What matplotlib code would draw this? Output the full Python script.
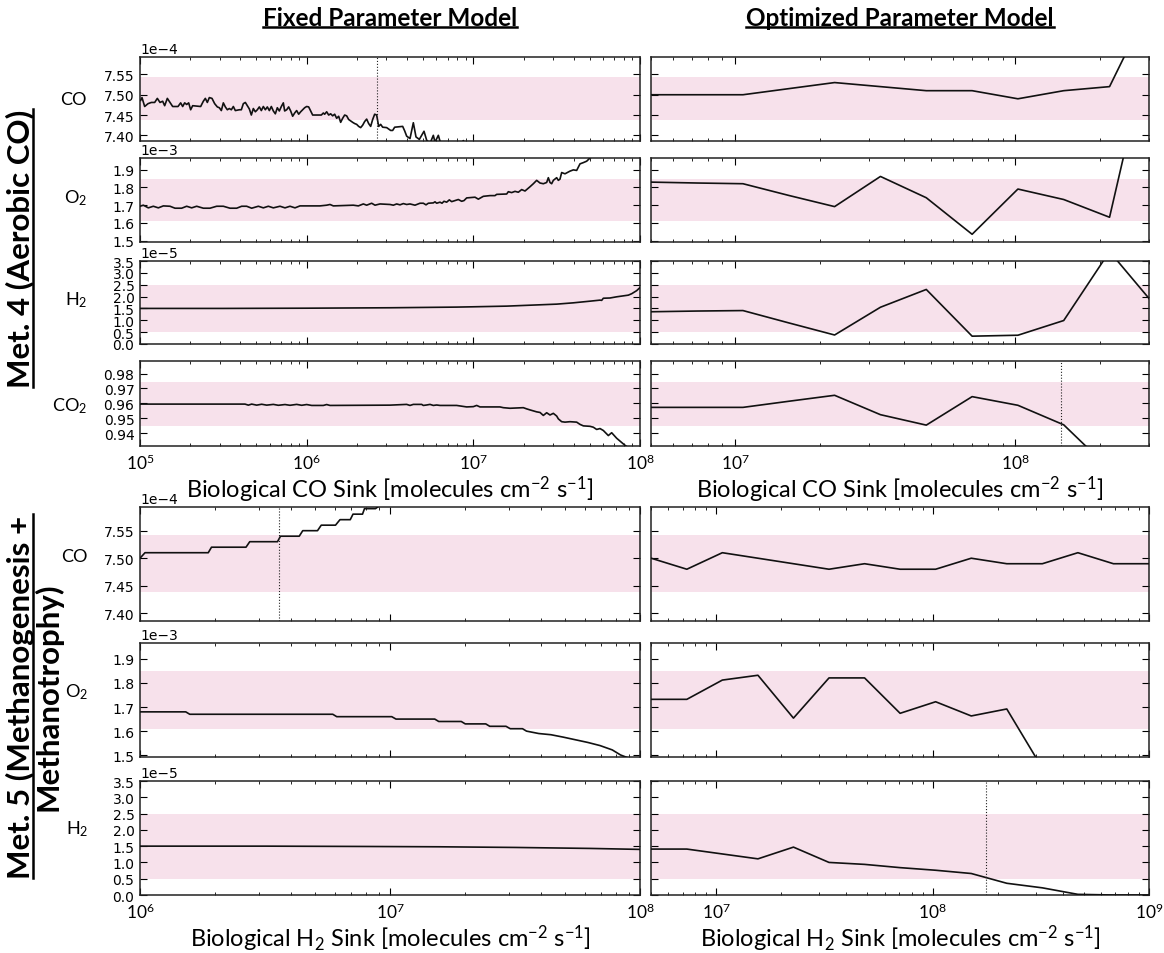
import numpy as np
import matplotlib
matplotlib.use("Agg")
import matplotlib.pyplot as plt
from matplotlib.ticker import MultipleLocator, NullFormatter
from matplotlib.lines import Line2D

# ── Data: fixed parameter model, Met. 4 (CO sink sweep, log10 of sink) ──
fix4_co_logx = [5.004, 5.012, 5.028, 5.048, 5.068, 5.088, 5.104, 5.120, 5.136, 5.148,
                5.164, 5.180, 5.196, 5.228, 5.244, 5.256, 5.268, 5.280, 5.292, 5.304,
                5.316, 5.364, 5.380, 5.392, 5.404, 5.416, 5.432, 5.448, 5.464, 5.476,
                5.488, 5.500, 5.512, 5.524, 5.536, 5.548, 5.560, 5.572, 5.596, 5.608,
                5.620, 5.632, 5.644, 5.656, 5.668, 5.680, 5.692, 5.704, 5.716, 5.728,
                5.740, 5.752, 5.764, 5.776, 5.788, 5.800, 5.812, 5.824, 5.836, 5.848,
                5.860, 5.868, 5.880, 5.892, 5.904, 5.916, 5.928, 5.940, 5.952, 5.964,
                5.976, 5.988, 6.000, 6.012, 6.024, 6.036, 6.088, 6.100, 6.108, 6.120,
                6.132, 6.144, 6.156, 6.168, 6.180, 6.192, 6.204, 6.216, 6.228, 6.240,
                6.252, 6.276, 6.288, 6.300, 6.312, 6.324, 6.336, 6.348, 6.360, 6.372,
                6.384, 6.396, 6.408, 6.420, 6.432, 6.444, 6.456, 6.480, 6.504, 6.516,
                6.528, 6.576, 6.588, 6.600, 6.620, 6.640, 6.656, 6.676, 6.690, 6.704,
                6.720, 6.740, 6.760, 6.770, 6.790, 6.804, 6.840, 6.920, 6.940, 6.960,
                7.040, 7.500, 8.000]
fix4_co = [7.486, 7.493, 7.471, 7.478, 7.481, 7.481, 7.491, 7.481, 7.484, 7.473,
           7.491, 7.481, 7.471, 7.471, 7.480, 7.471, 7.480, 7.476, 7.480, 7.463,
           7.473, 7.471, 7.484, 7.491, 7.481, 7.493, 7.491, 7.478, 7.470, 7.468,
           7.461, 7.480, 7.470, 7.463, 7.466, 7.463, 7.471, 7.461, 7.463, 7.463,
           7.478, 7.481, 7.473, 7.465, 7.450, 7.466, 7.458, 7.463, 7.470, 7.461,
           7.471, 7.463, 7.470, 7.461, 7.471, 7.460, 7.453, 7.468, 7.460, 7.471,
           7.480, 7.460, 7.463, 7.470, 7.460, 7.447, 7.455, 7.461, 7.452, 7.458,
           7.463, 7.468, 7.471, 7.470, 7.460, 7.450, 7.450, 7.455, 7.452, 7.458,
           7.450, 7.453, 7.448, 7.452, 7.442, 7.447, 7.432, 7.442, 7.450, 7.448,
           7.439, 7.432, 7.429, 7.427, 7.422, 7.419, 7.425, 7.434, 7.440, 7.429,
           7.422, 7.439, 7.452, 7.450, 7.422, 7.427, 7.420, 7.419, 7.412, 7.412,
           7.420, 7.422, 7.411, 7.398, 7.392, 7.431, 7.396, 7.390, 7.400, 7.410,
           7.388, 7.380, 7.400, 7.383, 7.400, 7.380, 7.367, 7.375, 7.387, 7.367,
           7.360, 7.300, 7.200]

fix4_o2_logx = [5.000, 5.020, 5.050, 5.080, 5.110, 5.140, 5.180, 5.210, 5.250, 5.280,
                5.310, 5.340, 5.380, 5.420, 5.460, 5.500, 5.540, 5.580, 5.610, 5.640,
                5.670, 5.710, 5.740, 5.770, 5.800, 5.840, 5.870, 5.900, 5.930, 5.960,
                6.080, 6.120, 6.140, 6.160, 6.280, 6.310, 6.340, 6.360, 6.390, 6.410,
                6.440, 6.500, 6.520, 6.540, 6.560, 6.580, 6.600, 6.620, 6.650, 6.680,
                6.700, 6.716, 6.730, 6.760, 6.770, 6.780, 6.800, 6.812, 6.824, 6.840,
                6.856, 6.870, 6.890, 6.910, 6.930, 6.944, 6.960, 7.010, 7.030, 7.060,
                7.100, 7.130, 7.140, 7.200, 7.210, 7.230, 7.250, 7.270, 7.290, 7.310,
                7.320, 7.340, 7.360, 7.380, 7.400, 7.420, 7.440, 7.450, 7.460, 7.470,
                7.480, 7.500, 7.510, 7.520, 7.530, 7.550, 7.580, 7.600, 7.620, 7.640,
                7.660, 7.680, 7.700, 7.800, 8.000]
fix4_o2 = [1.694, 1.700, 1.685, 1.694, 1.685, 1.696, 1.694, 1.683, 1.683, 1.694,
           1.685, 1.694, 1.683, 1.683, 1.694, 1.694, 1.683, 1.683, 1.694, 1.694,
           1.683, 1.694, 1.685, 1.694, 1.685, 1.694, 1.685, 1.694, 1.685, 1.696,
           1.696, 1.700, 1.704, 1.696, 1.700, 1.696, 1.707, 1.700, 1.711, 1.700,
           1.707, 1.704, 1.700, 1.707, 1.702, 1.709, 1.704, 1.707, 1.700, 1.711,
           1.711, 1.702, 1.711, 1.713, 1.719, 1.711, 1.717, 1.711, 1.722, 1.717,
           1.730, 1.720, 1.726, 1.732, 1.722, 1.726, 1.741, 1.745, 1.734, 1.750,
           1.754, 1.754, 1.761, 1.763, 1.776, 1.771, 1.778, 1.773, 1.788, 1.780,
           1.788, 1.804, 1.821, 1.840, 1.825, 1.821, 1.828, 1.855, 1.828, 1.821,
           1.840, 1.855, 1.840, 1.847, 1.884, 1.877, 1.892, 1.899, 1.896, 1.933,
           1.940, 1.948, 1.966, 2.020, 2.150]

fix4_h2_logx = [5.0, 5.5, 6.0, 6.5, 6.7, 6.9, 7.0, 7.1, 7.2, 7.3, 7.4, 7.5,
                7.6, 7.7, 7.76, 7.77, 7.78, 7.82, 7.86, 7.90, 7.93, 7.95, 7.98, 8.0]
fix4_h2 = [1.50, 1.50, 1.51, 1.528, 1.542, 1.556, 1.569, 1.583, 1.597, 1.625, 1.653, 1.681,
           1.736, 1.806, 1.85, 1.84, 1.93, 1.94, 1.99, 2.03, 2.06, 2.12, 2.25, 2.38]

fix4_co2_logx = [5.00, 5.63, 5.65, 5.67, 5.70, 5.73, 5.76, 5.80, 5.83, 5.87,
                 5.90, 5.94, 5.97, 6.00, 6.03, 6.10, 6.12, 6.14, 6.50, 6.60,
                 6.62, 6.64, 6.69, 6.70, 6.72, 6.74, 6.76, 6.78, 6.80, 6.90,
                 6.96, 7.00, 7.02, 7.04, 7.16, 7.18, 7.22, 7.30, 7.32, 7.34,
                 7.38, 7.40, 7.42, 7.44, 7.46, 7.48, 7.50, 7.51, 7.53, 7.55,
                 7.58, 7.62, 7.64, 7.66, 7.70, 7.72, 7.74, 7.76, 7.78, 7.81,
                 7.83, 7.86, 7.88, 7.90, 7.92, 8.00]
fix4_co2 = [0.9595, 0.9595, 0.9588, 0.9595, 0.9588, 0.9594, 0.9588, 0.9593, 0.9587, 0.9592,
            0.9587, 0.9593, 0.9587, 0.9592, 0.9586, 0.9586, 0.9592, 0.9586, 0.9588, 0.9593,
            0.9586, 0.9593, 0.9593, 0.9586, 0.9589, 0.9593, 0.9586, 0.9589, 0.9586, 0.9586,
            0.9576, 0.9578, 0.9586, 0.9576, 0.9576, 0.9571, 0.9567, 0.9571, 0.9563, 0.9556,
            0.9543, 0.9539, 0.9519, 0.9537, 0.9522, 0.9533, 0.9515, 0.9496, 0.9477, 0.9474,
            0.9477, 0.9474, 0.9459, 0.9449, 0.9446, 0.9440, 0.9425, 0.9431, 0.9418, 0.9384,
            0.9403, 0.9366, 0.9347, 0.9328, 0.9310, 0.9250]

# ── Data: fixed parameter model, Met. 5 (H2 sink sweep) ──
fix5_co_logx = [6.000, 6.020, 6.273, 6.286, 6.424, 6.439, 6.550, 6.562, 6.637, 6.651,
                6.710, 6.725, 6.782, 6.800, 6.841, 6.852, 6.890, 6.898, 6.942, 7.0,
                7.5, 8.0]
fix5_co = [7.50, 7.51, 7.51, 7.52, 7.52, 7.53, 7.53, 7.54, 7.54, 7.55,
           7.55, 7.56, 7.56, 7.57, 7.57, 7.58, 7.58, 7.59, 7.59, 7.61,
           7.75, 7.90]

fix5_o2_logx = [6.003, 6.183, 6.199, 6.771, 6.787, 7.007, 7.024, 7.179, 7.195, 7.285,
                7.301, 7.383, 7.399, 7.464, 7.481, 7.530, 7.546, 7.595, 7.644, 7.693,
                7.742, 7.791, 7.840, 7.889, 7.922, 8.000]
fix5_o2 = [1.68, 1.68, 1.67, 1.67, 1.66, 1.66, 1.65, 1.65, 1.64, 1.64,
           1.63, 1.63, 1.62, 1.62, 1.61, 1.61, 1.60, 1.59, 1.585, 1.575,
           1.564, 1.553, 1.540, 1.522, 1.501, 1.470]

fix5_h2_logx = [6.0, 6.5, 6.9, 7.2, 7.5, 7.8, 8.0]
fix5_h2 = [1.50, 1.50, 1.49, 1.48, 1.46, 1.43, 1.40]

# ── Data: optimized parameter model ──
opt4_x = [5.01e6, 7.31e6, 1.065e7, 1.552e7, 2.262e7, 3.298e7, 4.807e7, 7.007e7,
          1.021e8, 1.488e8, 2.169e8, 3.162e8]
opt4_co = [7.500, 7.500, 7.500, 7.515, 7.530, 7.520, 7.510, 7.510, 7.490, 7.510, 7.520, 7.750]
opt4_o2 = [1.830, 1.825, 1.821, 1.755, 1.692, 1.862, 1.742, 1.536, 1.791, 1.732, 1.632, 2.750]
opt4_h2 = [1.36, 1.39, 1.41, 0.89, 0.38, 1.55, 2.30, 0.33, 0.37, 0.99, 3.90, 1.60]
opt4_co2 = [0.9573, 0.9573, 0.9573, 0.9614, 0.9654, 0.9524, 0.9454, 0.9645, 0.9587, 0.9456,
            0.9160, 0.8800]

opt5_x = [5.01e6, 7.32e6, 1.068e7, 1.560e7, 2.276e7, 3.323e7, 4.850e7, 7.079e7,
          1.033e8, 1.509e8, 2.202e8, 3.215e8, 4.692e8, 6.850e8, 1.0e9]
opt5_co = [7.50, 7.48, 7.51, 7.50, 7.49, 7.48, 7.49, 7.48, 7.48, 7.50, 7.49, 7.49, 7.51, 7.49, 7.49]
opt5_o2 = [1.732, 1.732, 1.812, 1.832, 1.654, 1.821, 1.821, 1.674, 1.722, 1.663, 1.692, 1.446,
           np.nan, np.nan, np.nan]
opt5_h2 = [1.41, 1.41, 1.26, 1.11, 1.47, 1.00, 0.94, 0.84, 0.76, 0.66, 0.36, 0.22, 0.02, 0.0, 0.0]

# observed ranges (shaded) and axis windows, in plotted units
species = ["CO", "O2", "H2", "CO2"]
scale = {"CO": 1e-4, "O2": 1e-3, "H2": 1e-5, "CO2": 1.0}
band = {"CO": (7.438, 7.543), "O2": (1.609, 1.848), "H2": (0.5, 2.5), "CO2": (0.945, 0.9743)}
ylims = {"CO": (7.386, 7.593), "O2": (1.4925, 1.966), "H2": (0.0, 3.5), "CO2": (0.9314, 0.9884)}
ystep = {"CO": 0.05, "O2": 0.1, "H2": 0.5, "CO2": 0.01}
labels = {"CO": "CO", "O2": "O$_2$", "H2": "H$_2$", "CO2": "CO$_2$"}

# vertical dotted markers
vline_fix4_co = 2.64e6
vline_opt4_co2 = 1.46e8
vline_fix5_co = 3.6e6
vline_opt5_h2 = 1.77e8

LABEL_FONT = "Lato"
BAND = "#f7e1eb"
XLABEL_SIZE = 17
XTICK_SIZE = 12.5

plt.rcParams.update({
    "font.family": "DejaVu Sans",
    "mathtext.default": "regular",
    "xtick.direction": "in", "ytick.direction": "in",
    "xtick.top": True, "ytick.right": True,
    "xtick.major.size": 5, "ytick.major.size": 5,
    "xtick.minor.size": 2.5, "ytick.minor.size": 2.5,
    "xtick.major.pad": 5, "ytick.major.pad": 4,
    "ytick.labelsize": 10,
    "axes.linewidth": 1.1,
    "axes.edgecolor": "#222222",
    "axes.formatter.limits": (-2, 3),
    "axes.formatter.useoffset": False,
})

W, H = 1164, 954
fig = plt.figure(figsize=(W / 100, H / 100), dpi=100)

cols = {"fix": (140, 500), "opt": (651, 498)}
rows_top = [(58, 142), (159, 243), (262, 345), (362, 447)]
rows_bot = [(508, 622), (644, 758), (782, 896)]


def make_ax(col, row):
    x0, w = cols[col]
    t, b = row
    return fig.add_axes([x0 / W, 1 - b / H, w / W, (b - t) / H])


def style(ax, sp, xlim, show_ylabels, show_xlabels, xticks, xticklabels):
    s = scale[sp]
    lo, hi = band[sp]
    ax.axhspan(lo * s, hi * s, color=BAND, lw=0, zorder=0)
    ax.set_xscale("log")
    ax.set_xlim(*xlim)
    ax.set_ylim(ylims[sp][0] * s, ylims[sp][1] * s)
    ax.yaxis.set_major_locator(MultipleLocator(ystep[sp] * s))
    ax.tick_params(labelleft=show_ylabels)
    ax.xaxis.set_minor_formatter(NullFormatter())
    if show_xlabels:
        ax.set_xticks(xticks, labels=xticklabels, fontfamily=LABEL_FONT, fontsize=XTICK_SIZE)
    else:
        ax.set_xticks(xticks)
        ax.tick_params(labelbottom=False)


def plot_line(ax, x, y, sp):
    ax.plot(x, np.array(y) * scale[sp], color="#111111", lw=1.2, zorder=3)


def dotted(ax, xv):
    ax.axvline(xv, color="#222222", lw=0.8, ls=":", zorder=4)


fix4 = {"CO": (fix4_co_logx, fix4_co), "O2": (fix4_o2_logx, fix4_o2),
        "H2": (fix4_h2_logx, fix4_h2), "CO2": (fix4_co2_logx, fix4_co2)}
opt4 = {"CO": opt4_co, "O2": opt4_o2, "H2": opt4_h2, "CO2": opt4_co2}
fix5 = {"CO": (fix5_co_logx, fix5_co), "O2": (fix5_o2_logx, fix5_o2), "H2": (fix5_h2_logx, fix5_h2)}
opt5 = {"CO": opt5_co, "O2": opt5_o2, "H2": opt5_h2}

lab_y_top = [100, 198, 300, 406]
lab_y_bot = [557, 692, 829]
co_label = "Biological CO Sink [molecules cm$^{-2}$ s$^{-1}$]"
h2_label = "Biological H$_2$ Sink [molecules cm$^{-2}$ s$^{-1}$]"

# ── Met. 4: CO sink ──
for i, sp in enumerate(species):
    last = i == len(species) - 1
    ax = make_ax("fix", rows_top[i])
    lx, vals = fix4[sp]
    plot_line(ax, 10 ** np.array(lx), vals, sp)
    style(ax, sp, (1e5, 1e8), True, last, [1e5, 1e6, 1e7, 1e8],
          ["$10^{5}$", "$10^{6}$", "$10^{7}$", "$10^{8}$"])
    if sp == "CO":
        dotted(ax, vline_fix4_co)
    fig.text(87 / W, 1 - lab_y_top[i] / H, labels[sp], ha="right", va="center",
             fontsize=13, family=LABEL_FONT)
    if last:
        ax.set_xlabel(co_label, fontsize=XLABEL_SIZE, family=LABEL_FONT, labelpad=1)

    ax = make_ax("opt", rows_top[i])
    plot_line(ax, opt4_x, opt4[sp], sp)
    style(ax, sp, (5e6, 3e8), False, last, [1e7, 1e8], ["$10^{7}$", "$10^{8}$"])
    if sp == "CO2":
        dotted(ax, vline_opt4_co2)
    if last:
        ax.set_xlabel(co_label, fontsize=XLABEL_SIZE, family=LABEL_FONT, labelpad=1)

# ── Met. 5: H2 sink ──
for i, sp in enumerate(["CO", "O2", "H2"]):
    last = i == 2
    ax = make_ax("fix", rows_bot[i])
    lx, vals = fix5[sp]
    plot_line(ax, 10 ** np.array(lx), vals, sp)
    style(ax, sp, (1e6, 1e8), True, last, [1e6, 1e7, 1e8],
          ["$10^{6}$", "$10^{7}$", "$10^{8}$"])
    if sp == "CO":
        dotted(ax, vline_fix5_co)
    fig.text(88 / W, 1 - lab_y_bot[i] / H, labels[sp], ha="right", va="center",
             fontsize=13, family=LABEL_FONT)
    if last:
        ax.set_xlabel(h2_label, fontsize=XLABEL_SIZE, family=LABEL_FONT, labelpad=1)

    ax = make_ax("opt", rows_bot[i])
    plot_line(ax, opt5_x, opt5[sp], sp)
    style(ax, sp, (5e6, 1e9), False, last, [1e7, 1e8, 1e9],
          ["$10^{7}$", "$10^{8}$", "$10^{9}$"])
    if sp == "H2":
        dotted(ax, vline_opt5_h2)
    if last:
        ax.set_xlabel(h2_label, fontsize=XLABEL_SIZE, family=LABEL_FONT, labelpad=1)

# ── headers and group labels ──
hdr_kw = dict(fontsize=17.5, fontweight="bold", family=LABEL_FONT, ha="center", va="center")
h1 = fig.text(390 / W, 1 - 18 / H, "Fixed Parameter Model", **hdr_kw)
h2 = fig.text(900 / W, 1 - 18 / H, "Optimized Parameter Model", **hdr_kw)

grp_kw = dict(fontsize=22.5, fontweight="bold", family=LABEL_FONT, rotation=90,
              ha="center", va="center")
g1 = fig.text(20 / W, 1 - 249 / H, "Met. 4 (Aerobic CO)", **grp_kw)
g2 = fig.text(20 / W, 1 - 697 / H, "Met. 5 (Methanogenesis +", **grp_kw)
g3 = fig.text(48 / W, 1 - 697 / H, "Methanotrophy)", **grp_kw)

fig.canvas.draw()
renderer = fig.canvas.get_renderer()


def underline(txt, vertical=False):
    bb = txt.get_window_extent(renderer)
    if vertical:
        x = (bb.x1 - 1.5) / W
        fig.add_artist(Line2D([x, x], [bb.y0 / H, bb.y1 / H], transform=fig.transFigure,
                              color="black", lw=1.8))
    else:
        y = (bb.y0 + 1.5) / H
        fig.add_artist(Line2D([bb.x0 / W, bb.x1 / W], [y, y], transform=fig.transFigure,
                              color="black", lw=1.8))


for t in (h1, h2):
    underline(t)
for t in (g1, g2):
    underline(t, vertical=True)

fig.savefig("out.png", dpi=100, facecolor="white")
